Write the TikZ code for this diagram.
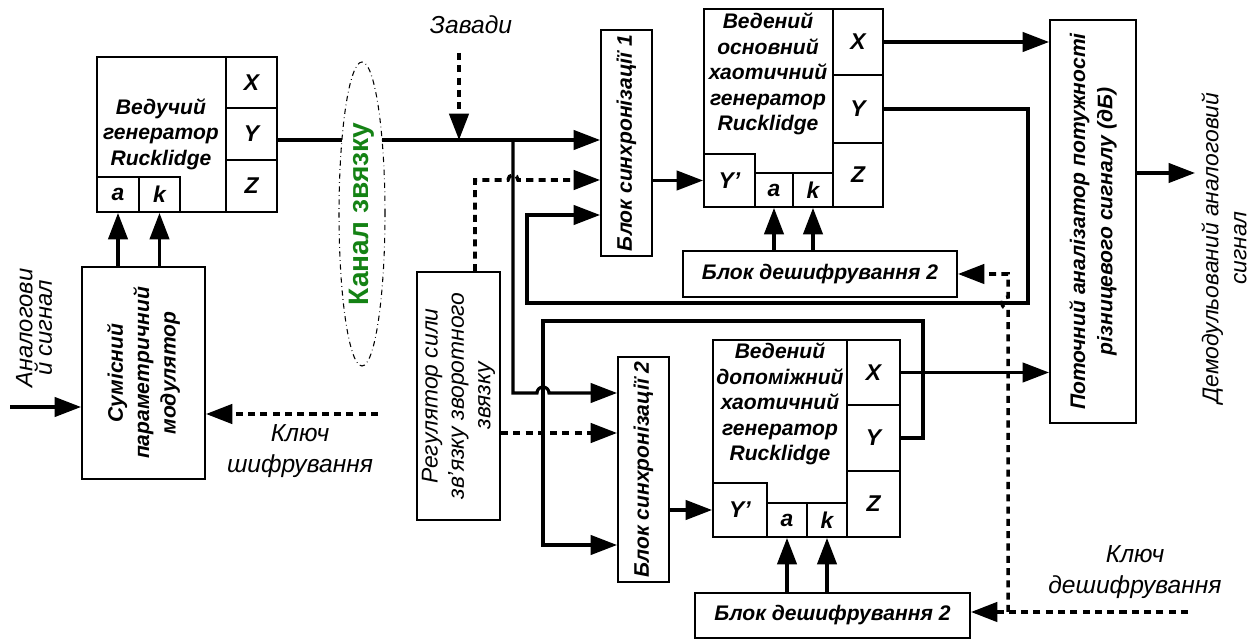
\documentclass[tikz,border=0pt]{standalone}
\usepackage{fontspec}
\setmainfont{Liberation Sans}
\usepackage{tikz}
\usetikzlibrary{arrows.meta, fit, shapes.geometric}
\definecolor{chgreen}{RGB}{20,130,20}

\tikzset{
  blk/.style={draw, line width=1.1pt, inner sep=0pt},
  cellfont/.style={font=\bfseries\itshape\fontsize{13}{15}\selectfont},
  cell/.style={blk, label={[cellfont]center:#1}},
  conn/.style={line width=1.8pt},
  dashline/.style={dash pattern=on 4pt off 3pt, line width=2pt},
  lbl/.style={font=\bfseries\itshape\fontsize{12}{14.5}\selectfont, align=center},
  note/.style={font=\itshape\fontsize{14}{18}\selectfont, align=center},
  >={Triangle[length=15pt, width=11pt]}
}

\begin{document}
\begin{tikzpicture}[x=0.02cm, y=-0.02cm]
    \useasboundingbox (0,0) rectangle (1258,641);

    % 1. Master generator with its X, Y, Z outputs and a, k inputs
    \node[blk, fit={(97,57) (226,212)}] (mgen) {};
    \node[lbl] (mtxt) at (161,134) {Ведучий\\генератор\\Rucklidge};
    \node[cell=X, fit={(226,57) (277,108)}] (mX) {};
    \node[cell=Y, fit={(226,108) (277,160)}] (mY) {};
    \node[cell=Z, fit={(226,160) (277,212)}] (mZ) {};
    \node[cell=a, fit={(97,177) (139,212)}] (ma) {};
    \node[cell=k, fit={(139,177) (180,212)}] (mk) {};

    % 2. Modulator and its inputs
    \node[blk, fit={(82,267) (205,479)}] (mod) {};
    \node[lbl, rotate=90, font=\bfseries\itshape\fontsize{12}{15}\selectfont] (modtxt) at (mod) {Сумісний\\параметричний\\модулятор};
    \node[note, rotate=90, font=\itshape\fontsize{13.5}{10}\selectfont] (ainl) at (34,328) {Аналогови\\й сигнал};
    \node[note] (kenc) at (300,451) {Ключ\\шифрування};
    \coordinate (ain) at (10,407);
    \coordinate (kin) at (378,414);

    % 3. The channel
    \node[draw, ellipse, dash dot, line width=0.6pt, inner sep=0pt,
          minimum width=0.92cm, minimum height=6.08cm] (chan) at (362,214) {};
    \node[rotate=90, text=chgreen, font=\bfseries\fontsize{16}{16}\selectfont] (chtxt) at (chan) {Канал звязку};
    \coordinate (chW) at (342,140);
    \coordinate (chE) at (382,140);
    \coordinate (bus) at (513,140);
    \node[note] (noise) at (471,25) {Завади};
    \coordinate (nz) at (459,53);

    % 4. Feedback strength regulator
    \node[blk, fit={(417,272) (500,520)}] (reg) {};
    \node[note, rotate=90, font=\itshape\fontsize{13}{15}\selectfont] (regtxt) at (reg) {Регулятор сили\\зв’язку зворотного\\звязку};

    % 5. Sync blocks
    \node[blk, fit={(601,30) (652,256)}] (sync1) {};
    \node[lbl, rotate=90] (s1txt) at (sync1) {Блок синхронізації 1};
    \node[blk, fit={(618,357) (669,582)}] (sync2) {};
    \node[lbl, rotate=90] (s2txt) at (sync2) {Блок синхронізації 2};

    % 6. Slave generator (main)
    \node[blk, fit={(704,9) (833,207)}] (g1) {};
    \node[lbl] (g1txt) at (768,74) {Ведений\\основний\\хаотичний\\генератор\\Rucklidge};
    \node[cell=X, fit={(833,9) (883,75)}] (g1X) {};
    \node[cell=Y, fit={(833,75) (883,143)}] (g1Y) {};
    \node[cell=Z, fit={(833,143) (883,207)}] (g1Z) {};
    \node[cell=Y’, fit={(704,154) (755,207)}] (g1Yp) {};
    \node[cell=a, fit={(755,173) (793,207)}] (g1a) {};
    \node[cell=k, fit={(793,173) (833,207)}] (g1k) {};
    \node[blk, fit={(683,251) (957,297)}] (dec1) {};
    \node[lbl] (d1txt) at (dec1) {Блок дешифрування 2};

    % 7. Slave generator (auxiliary)
    \node[blk, fit={(713,340) (847,537)}] (g2) {};
    \node[lbl] (g2txt) at (780,404) {Ведений\\допоміжний\\хаотичний\\генератор\\Rucklidge};
    \node[cell=X, fit={(847,340) (900,405)}] (g2X) {};
    \node[cell=Y, fit={(847,405) (900,471)}] (g2Y) {};
    \node[cell=Z, fit={(847,471) (900,537)}] (g2Z) {};
    \node[cell=Y’, fit={(713,483) (767,537)}] (g2Yp) {};
    \node[cell=a, fit={(767,503) (807,537)}] (g2a) {};
    \node[cell=k, fit={(807,503) (847,537)}] (g2k) {};
    \node[blk, fit={(695,593) (970,638)}] (dec2) {};
    \node[lbl] (d2txt) at (dec2) {Блок дешифрування 2};

    % 8. Analyzer and the demodulated output
    \node[blk, fit={(1050,20) (1136,423)}] (an) {};
    \node[lbl, rotate=90, font=\bfseries\itshape\fontsize{12}{15.5}\selectfont] (antxt) at (an) {Поточний аналізатор потужності\\різницевого сигналу (дБ)};
    \coordinate (dout) at (1195,173);
    \node[note, rotate=90, font=\itshape\fontsize{13}{16}\selectfont] (doutl) at (1224,248) {Демодульований аналоговий\\сигнал};
    \node[note] (kdec) at (1135,572) {Ключ\\дешифрування};
    \coordinate (kdin) at (1188,612);
    \coordinate (tap) at (1008,612);

    % 9. Connectors
    \draw[conn,->] (ain) -- (ain -| mod.west);
    \draw[dashline,->] (kin) -- (kin -| mod.east);
    \draw[conn,->] (mod.north -| ma) -- (ma.south);
    \draw[conn,->] (mod.north -| mk) -- (mk.south);
    \draw[conn] (mY.east |- chW) -- (chW);
    \draw[conn,->] (chE) -- (sync1.west |- chE);
    \draw[dashline,->] (nz) -- (nz |- bus);
    \draw[conn,->] (bus) |- (537,393) arc[start angle=180, end angle=0, radius=0.12cm] -- (sync2.west |- 0,393);
    \draw[dashline,->] (reg.north -| 475,0) -- (475,180) -- (508,180) arc[start angle=180, end angle=0, radius=0.1cm] -- (sync1.west |- 0,180);
    \draw[dashline,->] (reg.east |- 0,433) -- (sync2.west |- 0,433);
    \draw[conn,->] (g1Y.east) -| (1028,303) -| (527,215) -- (sync1.west |- 0,215);
    \draw[conn,->] (g2Y.east) -| (923,321) -| (543,545) -- (sync2.west |- 0,545);
    \draw[conn,->] (sync1.east |- g1Yp) -- (g1Yp.west);
    \draw[conn,->] (sync2.east |- g2Yp) -- (g2Yp.west);
    \draw[conn,->] (dec1.north -| g1a) -- (g1a.south);
    \draw[conn,->] (dec1.north -| g1k) -- (g1k.south);
    \draw[conn,->] (dec2.north -| g2a) -- (g2a.south);
    \draw[conn,->] (dec2.north -| g2k) -- (g2k.south);
    \draw[conn,->] (g1X.east) -- (g1X.east -| an.west);
    \draw[conn,->] (g2X.east) -- (g2X.east -| an.west);
    \draw[conn,->] (an.east |- dout) -- (dout);
    \draw[dashline,->] (kdin) -- (kdin -| dec2.east);
    \draw[dashline,->] (tap) -- (1008,309) arc[start angle=270, end angle=90, radius=0.12cm] -- (dec1.east -| tap) -- (dec1.east);

\end{tikzpicture}
\end{document}
